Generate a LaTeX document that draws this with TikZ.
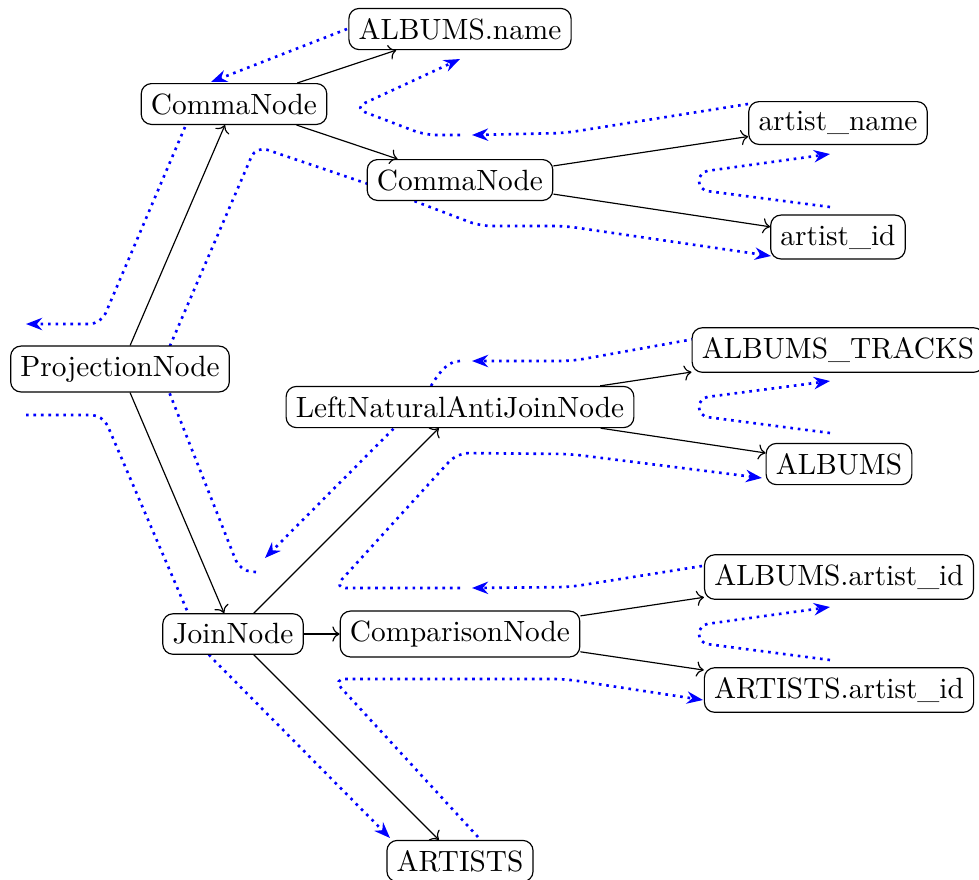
\documentclass[tikz,border=0pt]{standalone}
\usetikzlibrary{arrows.meta}
\begin{document}
\begin{tikzpicture}[x=0.3413pt, y=-0.3413pt,
  tnode/.style={draw, rounded corners=3.5pt, fill=white, inner sep=3.333pt, line width=0.4pt},
  edge/.style={->, line width=0.4pt},
  tour/.style={blue, line width=0.9pt, dash pattern=on 0.9pt off 1.65pt,
    rounded corners=4pt, -{Stealth[length=5.5pt,width=4.2pt]}},
  uturn/.style={tour, rounded corners=3pt}]
\useasboundingbox (0,0) rectangle (979,879);

% traversal walk around the tree
\draw[tour] (347,29) -- (211,82);
\draw[tour] (185,127) -- (101,324) -- (26,324);
\draw[tour] (26,415) -- (103,415) -- (204,650) -- (390,838);
\draw[tour] (478,837) -- (333,679) -- (565,679) -- (703,700);
\draw[uturn] (830,660) -- (699,643) -- (699,625) -- (830,607);
\draw[tour] (702,566) -- (570,587) -- (472,588);
\draw[tour] (460,588) -- (334,588) -- (457,453) -- (570,454) -- (762,478);
\draw[uturn] (830,433) -- (699,416) -- (699,398) -- (830,381);
\draw[tour] (694,339) -- (572,361) -- (472,361);
\draw[tour] (460,361) .. controls (440,361) and (430,392) .. (412,410) -- (265,558);
\draw[tour] (256,572) -- (240,571) -- (160,369) -- (256,146) -- (380,188)
  -- (480,226) -- (565,226) -- (771,256);
\draw[uturn] (830,207) -- (699,190) -- (699,172) -- (830,154);
\draw[tour] (748,104) -- (565,133) -- (472,135);
\draw[tour] (460,135) -- (425,135) -- (354,108) -- (460,59);

% tree nodes
\node[tnode] (pn)    at (120,369) {ProjectionNode};
\node[tnode] (cn1)   at (234,104) {CommaNode};
\node[tnode] (an)    at (460,29)  {ALBUMS.name};
\node[tnode] (cn2)   at (460,180) {CommaNode};
\node[tnode] (arn)   at (838,123) {artist\_name};
\node[tnode] (aid)   at (838,237) {artist\_id};
\node[tnode] (jn)    at (233,634) {JoinNode};
\node[tnode] (lnaj)  at (460,407) {LeftNaturalAntiJoinNode};
\node[tnode] (at)    at (838,350) {ALBUMS\_TRACKS};
\node[tnode] (al)    at (839,464) {ALBUMS};
\node[tnode] (cmp)   at (460,634) {ComparisonNode};
\node[tnode] (aaid)  at (839,577) {ALBUMS.artist\_id};
\node[tnode] (araid) at (839,690) {ARTISTS.artist\_id};
\node[tnode] (ar)    at (460,861) {ARTISTS};

% tree edges
\draw[edge] (pn) -- (cn1);
\draw[edge] (pn) -- (jn);
\draw[edge] (cn1) -- (an);
\draw[edge] (cn1) -- (cn2);
\draw[edge] (cn2) -- (arn);
\draw[edge] (cn2) -- (aid);
\draw[edge] (jn) -- (lnaj);
\draw[edge] (jn) -- (cmp);
\draw[edge] (jn) -- (ar);
\draw[edge] (lnaj) -- (at);
\draw[edge] (lnaj) -- (al);
\draw[edge] (cmp) -- (aaid);
\draw[edge] (cmp) -- (araid);
\end{tikzpicture}
\end{document}
